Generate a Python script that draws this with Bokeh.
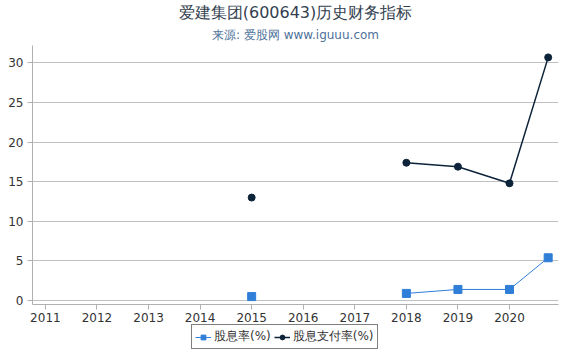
import math
from bokeh.plotting import figure
from bokeh.layouts import column
from bokeh.models import (ColumnDataSource, Title, Legend, LegendItem,
                          FixedTicker, Range1d)
from bokeh.embed import file_html
from bokeh.resources import INLINE

# ---- data ----
years = [2011, 2012, 2013, 2014, 2015, 2016, 2017, 2018, 2019, 2020, 2020.75]
tick_years = [2011, 2012, 2013, 2014, 2015, 2016, 2017, 2018, 2019, 2020]
nan = float("nan")
dividend_yield = [nan, nan, nan, nan, 0.5, nan, nan, 0.9, 1.4, 1.4, 5.4]
payout_ratio = [nan, nan, nan, nan, 13.0, nan, nan, 17.4, 16.9, 14.8, 30.7]
y_ticks = [0, 5, 10, 15, 20, 25, 30]

title_text = "爱建集团(600643)历史财务指标"
subtitle_text = "来源: 爱股网 www.iguuu.com"
label_yield = "股息率(%)"
label_payout = "股息支付率(%)"

FONT = "DejaVu Sans"
blue = "#2f7ed8"
dark = "#0d233a"

src = ColumnDataSource(dict(x=years, dy=dividend_yield, pr=payout_ratio))

p = figure(width=570, height=324, output_backend="svg", toolbar_location=None,
           x_range=Range1d(2010.75, 2020.95), y_range=Range1d(-0.5, 32.2),
           min_border_left=32, min_border_right=12, min_border_top=0,
           min_border_bottom=0, title=None)
p.outline_line_color = None
p.background_fill_color = "white"
p.border_fill_color = "white"

# titles (added in reverse order)
p.add_layout(Title(text=subtitle_text, align="center", text_font=FONT,
                   text_font_size="12px", text_font_style="normal",
                   text_color="#4d7199", standoff=8, offset=0,
                   text_line_height=1.0), "above")
p.add_layout(Title(text=title_text, align="center", text_font=FONT,
                   text_font_size="16px", text_font_style="normal",
                   text_color="#333f50", standoff=0, offset=0,
                   text_line_height=1.0), "above")

p.line("x", "dy", source=src, line_color=blue, line_width=1)
p.scatter("x", "dy", source=src, marker="square", size=8,
          fill_color=blue, line_color=blue)
p.line("x", "pr", source=src, line_color=dark, line_width=1.5)
p.scatter("x", "pr", source=src, marker="circle", size=7,
          fill_color=dark, line_color=dark)

p.xaxis.ticker = FixedTicker(ticks=tick_years)
p.yaxis.ticker = FixedTicker(ticks=y_ticks)
p.xgrid.grid_line_color = None
p.ygrid.grid_line_color = "#c0c0c0"
for ax in (p.xaxis, p.yaxis):
    ax.axis_line_color = "#b0b0b0"
    ax.major_tick_line_color = "#b0b0b0"
    ax.minor_tick_line_color = None
    ax.major_label_text_font = FONT
    ax.major_label_text_font_size = "12px"
    ax.major_label_text_color = "#333333"
    ax.major_tick_out = 5
    ax.major_tick_in = 0
p.xaxis.major_label_standoff = 3
p.yaxis.major_label_standoff = 4

# legend strip below the chart (legend-only renderers hold no visible points)
pl = figure(width=570, height=26, output_backend="svg", toolbar_location=None,
            x_range=Range1d(0, 1), y_range=Range1d(0, 1),
            min_border=0, title=None)
pl.outline_line_color = None
pl.axis.visible = False
pl.grid.grid_line_color = None
proxy = ColumnDataSource(dict(x=[nan], y=[nan]))
l1 = pl.line("x", "y", source=proxy, line_color=blue, line_width=1)
s1 = pl.scatter("x", "y", source=proxy, marker="square", size=8,
                fill_color=blue, line_color=blue)
l2 = pl.line("x", "y", source=proxy, line_color=dark, line_width=1.5)
s2 = pl.scatter("x", "y", source=proxy, marker="circle", size=7,
                fill_color=dark, line_color=dark)
legend = Legend(items=[LegendItem(label=label_yield, renderers=[l1, s1]),
                       LegendItem(label=label_payout, renderers=[l2, s2])],
                orientation="horizontal", location=(159, 1),
                border_line_color="black", border_line_width=1,
                label_text_font=FONT, label_text_font_size="12px",
                label_text_color="#333333", glyph_width=16, glyph_height=12,
                spacing=3, padding=3, margin=0, label_standoff=3,
                label_height=14)
pl.add_layout(legend, "center")

open("out.html", "w").write(file_html(column(p, pl, spacing=0), INLINE))
